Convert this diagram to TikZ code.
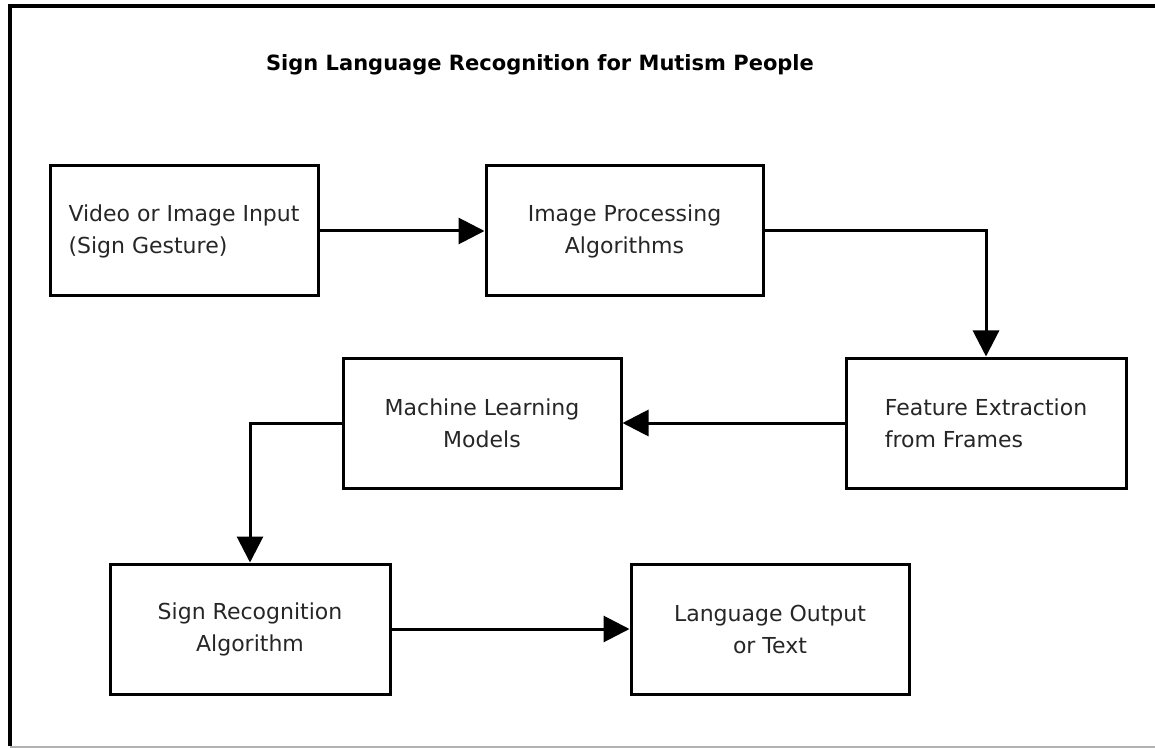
\documentclass[tikz,border=0pt]{standalone}
\usepackage{fontspec}
\setmainfont{DejaVu Sans}
\usetikzlibrary{positioning,arrows.meta}

\begin{document}
\begin{tikzpicture}[
    block/.style={rectangle, draw, line width=1.5pt, minimum width=139pt, minimum height=65pt,
        align=center, text=black!85, font=\fontsize{11pt}{16pt}\selectfont},
    arrow/.style={line width=1.5pt, -{Triangle[length=13pt, width=13pt]}}
]
    \useasboundingbox (0,0) rectangle (577.5pt,-374pt);

    % Frame
    \draw[line width=2pt] (4.75pt,-373pt) |- (577.5pt,-3pt);
    \draw[black!30, line width=0.75pt] (5pt,-373.5pt) -- (577.5pt,-373.5pt);

    % Title
    \node[font=\bfseries\fontsize{10.5pt}{13pt}\selectfont] (title) at (270pt,-32.5pt) {Sign Language Recognition for Mutism People};

    % Top row
    \node[block, minimum width=134pt, align=left] (input) at (92pt,-115.5pt) {Video or Image Input\\(Sign Gesture)};
    \node[block, minimum width=138.5pt, anchor=west] at ([xshift=82.5pt]input.east) (imgproc) {Image Processing\\Algorithms};

    % Middle row
    \node[block, minimum width=140pt, align=left, anchor=north west] at ([xshift=40pt, yshift=-29.5pt]imgproc.south east) (features) {Feature Extraction\\from Frames};
    \node[block, anchor=east] at ([xshift=-111pt]features.west) (mlmodels) {Machine Learning\\Models};

    % Bottom row
    \node[block, minimum width=140pt, anchor=north] at ([xshift=-116pt, yshift=-36.5pt]mlmodels.south) (recog) {Sign Recognition\\Algorithm};
    \node[block, anchor=west] at ([xshift=119pt]recog.east) (output) {Language Output\\or Text};

    % Arrows
    \draw[arrow] (input) -- (imgproc);
    \draw[arrow] (imgproc.east) -| (features.north);
    \draw[arrow] (features.west) -- (mlmodels.east);
    \draw[arrow] (mlmodels.west) -| (recog.north);
    \draw[arrow] (recog) -- (output);
\end{tikzpicture}
\end{document}
